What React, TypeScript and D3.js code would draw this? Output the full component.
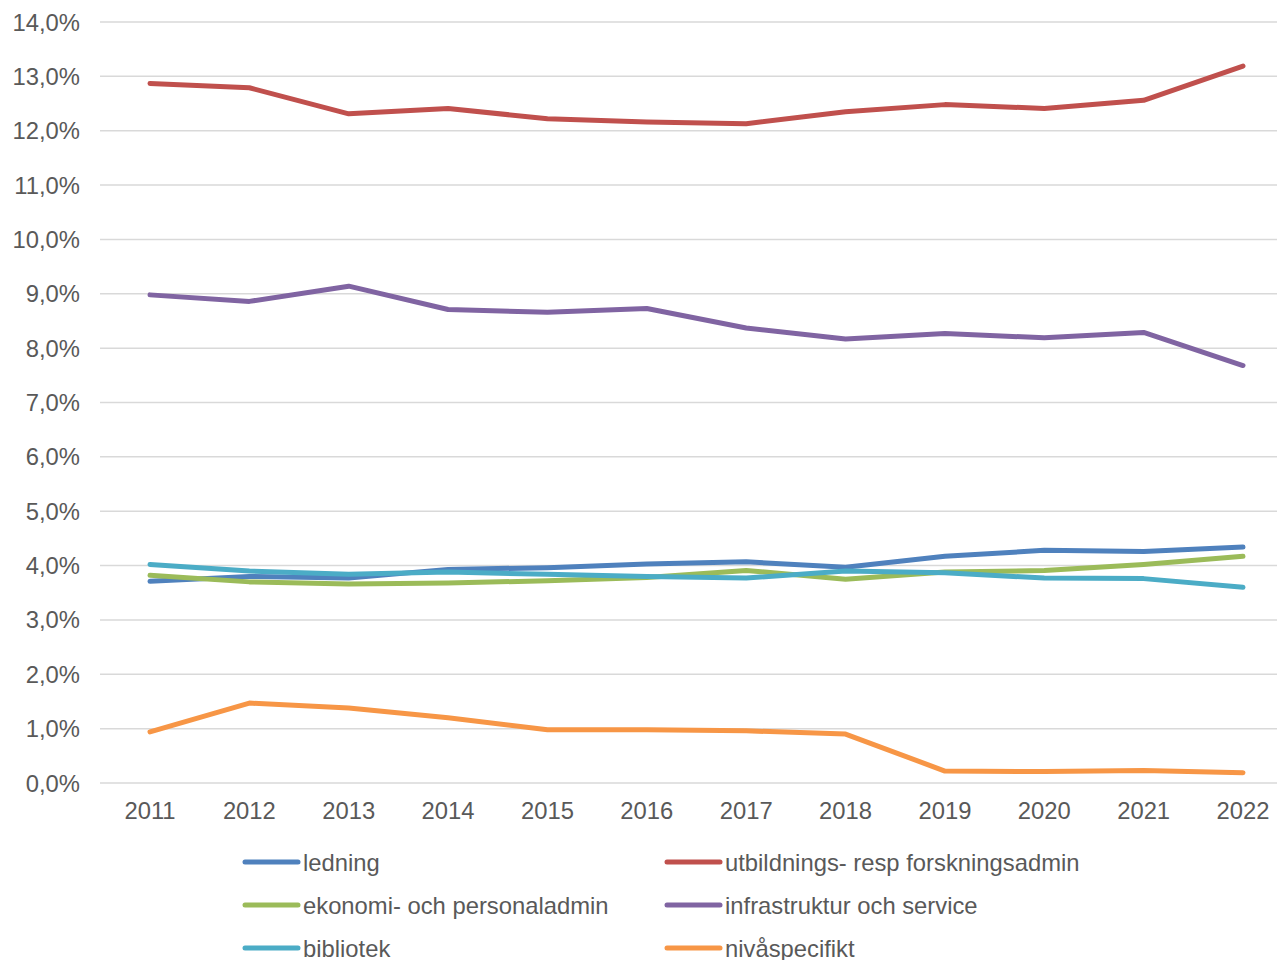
import React, { useEffect, useRef } from "react";
import * as d3 from "d3";

const years = ["2011","2012","2013","2014","2015","2016","2017","2018","2019","2020","2021","2022"];
const ledning = [3.71, 3.80, 3.77, 3.93, 3.96, 4.03, 4.07, 3.97, 4.17, 4.28, 4.26, 4.34];
const utbildning = [12.87, 12.79, 12.31, 12.41, 12.22, 12.16, 12.13, 12.35, 12.48, 12.41, 12.56, 13.19];
const ekonomi = [3.82, 3.70, 3.66, 3.68, 3.72, 3.78, 3.91, 3.75, 3.88, 3.91, 4.02, 4.17];
const infrastruktur = [8.98, 8.86, 9.14, 8.71, 8.66, 8.73, 8.37, 8.17, 8.27, 8.19, 8.29, 7.68];
const bibliotek = [4.02, 3.90, 3.84, 3.88, 3.84, 3.80, 3.77, 3.90, 3.87, 3.77, 3.76, 3.60];
const nivaspecifikt = [0.94, 1.47, 1.38, 1.20, 0.98, 0.98, 0.96, 0.90, 0.22, 0.21, 0.23, 0.19];
const yTicks = [0, 1, 2, 3, 4, 5, 6, 7, 8, 9, 10, 11, 12, 13, 14];

const seriesNames = [
  "ledning",
  "utbildnings- resp forskningsadmin",
  "ekonomi- och personaladmin",
  "infrastruktur och service",
  "bibliotek",
  "nivåspecifikt",
];
const seriesValues = [ledning, utbildning, ekonomi, infrastruktur, bibliotek, nivaspecifikt];
const colors = ["#4F81BD", "#C0504D", "#9BBB59", "#8064A2", "#4BACC6", "#F79646"];

const W = 1277;
const H = 960;
const FONT = "'Liberation Sans', Arial, sans-serif";
const FS = 23.8;

export default function App() {
  const ref = useRef<SVGSVGElement | null>(null);

  useEffect(() => {
    const svg = d3.select(ref.current);
    svg.selectAll("*").remove();

    const x = d3.scalePoint<string>().domain(years).range([150, 1243]);
    const y = d3.scaleLinear().domain([0, 14]).range([783, 22]);

    svg.append("g")
      .selectAll("line")
      .data(yTicks)
      .join("line")
      .attr("x1", 100)
      .attr("x2", W)
      .attr("y1", (d) => y(d))
      .attr("y2", (d) => y(d))
      .attr("stroke", "#D9D9D9")
      .attr("stroke-width", 1.5);

    svg.append("g")
      .selectAll("text")
      .data(yTicks)
      .join("text")
      .attr("x", 80)
      .attr("y", (d) => y(d))
      .attr("dy", "0.36em")
      .attr("text-anchor", "end")
      .attr("font-family", FONT)
      .attr("font-size", FS)
      .attr("fill", "#595959")
      .text((d) => d.toFixed(1).replace(".", ",") + "%");

    svg.append("g")
      .selectAll("text")
      .data(years)
      .join("text")
      .attr("x", (d) => x(d) as number)
      .attr("y", 819)
      .attr("text-anchor", "middle")
      .attr("font-family", FONT)
      .attr("font-size", FS)
      .attr("fill", "#595959")
      .text((d) => d);

    const line = d3.line<number>()
      .x((_, i) => x(years[i]) as number)
      .y((d) => y(d));

    seriesValues.forEach((vals, i) => {
      svg.append("path")
        .attr("d", line(vals) as string)
        .attr("fill", "none")
        .attr("stroke", colors[i])
        .attr("stroke-width", 5)
        .attr("stroke-linecap", "round")
        .attr("stroke-linejoin", "round");
    });

    const legendCols = [245, 667];
    const legendRows = [862, 905, 948];
    seriesNames.forEach((name, i) => {
      const cx = legendCols[i % 2];
      const cy = legendRows[Math.floor(i / 2)];
      const g = svg.append("g");
      g.append("line")
        .attr("x1", cx)
        .attr("x2", cx + 53)
        .attr("y1", cy)
        .attr("y2", cy)
        .attr("stroke", colors[i])
        .attr("stroke-width", 5)
        .attr("stroke-linecap", "round");
      g.append("text")
        .attr("x", cx + 58)
        .attr("y", cy)
        .attr("dy", "0.36em")
        .attr("font-family", FONT)
        .attr("font-size", FS)
        .attr("fill", "#595959")
        .text(name);
    });
  }, []);

  return (
    <svg
      ref={ref}
      width={W}
      height={H}
      style={{ position: "absolute", left: 0, top: 0, background: "#fff" }}
    />
  );
}
